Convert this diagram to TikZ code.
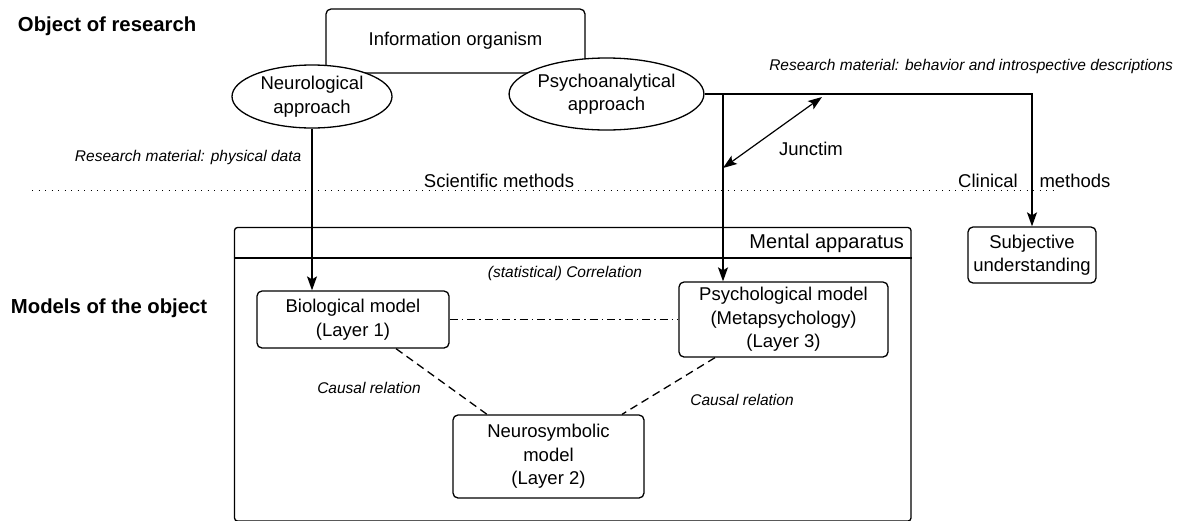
\documentclass[tikz,border=0pt]{standalone}
\usepackage{fontspec}
\setmainfont{Liberation Sans}
\usetikzlibrary{arrows.meta,shapes.geometric}
\begin{document}
\begin{tikzpicture}[x=1pt,y=-1pt,
  line width=1.3pt,
  >={Stealth[length=14pt,width=10pt,inset=3pt]},
  txt/.style={font=\fontsize{18.5}{23.5}\selectfont},
  lbl/.style={font=\fontsize{15.5}{18}\selectfont\itshape},
  hdr/.style={font=\fontsize{20.3}{24}\selectfont\bfseries},
  box/.style={draw, rounded corners=5pt, align=center, inner sep=0pt, fill=white, txt},
  oval/.style={draw, ellipse, align=center, inner sep=0pt, fill=white, txt},
  corr/.style={dash pattern=on 8pt off 4pt on 1.5pt off 4pt},
  causal/.style={dash pattern=on 8pt off 5pt},
  divider/.style={line width=1pt, dash pattern=on 1pt off 5.5pt}
]
\useasboundingbox (0,0) rectangle (1183,520);

% headings
\node[hdr, anchor=west] (hobj) at (14,26) {Object of research};
\node[hdr, anchor=west] (hmod) at (7,308) {Models of the object};

% object of research
\node[box, minimum width=259pt, minimum height=64pt] (org) at (455.5,41) {Information organism};
\node[oval, minimum width=160pt, minimum height=63pt] (neuro) at (312,96.5) {Neurological\\approach};
\node[oval, minimum width=177pt, minimum height=72pt] (psycho) at (606.5,94) {Psychoanalytical\\approach};

% research material labels
\node[lbl, anchor=east] (matb) at (1177,66) {Research material: behavior and introspective descriptions};
\node[lbl, anchor=west] (matp) at (71,157) {Research material: physical data};

% method divider
\coordinate (dl) at (32,190);
\coordinate (dr) at (1053,190);
\draw[divider] (dl) -- (dr);
\node[txt] (sci) at (499,181) {Scientific methods};
\node[txt] (clin) at (988,181) {Clinical};
\node[txt] (meth) at (1075,181) {methods};

% mental apparatus container
\node[draw, rounded corners=3pt, minimum width=676.5pt, minimum height=293.5pt, inner sep=0pt] (mental) at (572.75,374.25) {};
\coordinate (hl) at (0,258);
\draw (mental.west |- hl) -- (mental.east |- hl);
\node[txt, font=\fontsize{20}{24}\selectfont, anchor=east] (mtitle) at (908,243) {Mental apparatus};

% models
\node[box, minimum width=192pt, minimum height=57pt] (bio) at (353,319.5) {Biological model\\(Layer 1)};
\node[box, minimum width=209pt, minimum height=75pt] (psych) at (783.5,319.5) {Psychological model\\(Metapsychology)\\(Layer 3)};
\node[box, minimum width=191pt, minimum height=83pt] (nsym) at (548.5,456.5) {Neurosymbolic\\model\\(Layer 2)};
\node[box, minimum width=128pt, minimum height=56pt] (subj) at (1032,255) {Subjective\\understanding};

% relations between the models
\draw[corr] (bio.east) -- (psych.west);
\node[lbl] (corrl) at (565,273) {(statistical) Correlation};
\draw[causal] ([xshift=43pt]bio.south) -- ([xshift=-61.5pt]nsym.north);
\draw[causal] ([xshift=-68.5pt]psych.south) -- ([xshift=73.5pt]nsym.north);
\node[lbl] (caus1) at (369,388) {Causal relation};
\node[lbl] (caus2) at (742,400) {Causal relation};

% research paths
\draw[->] (neuro.south) -- (neuro.south |- bio.north);
\draw[->] (psycho.east) -| (subj.north);
\coordinate (tap) at (723,94);
\draw[->] (tap) -- (tap |- psych.north);

% junctim
\coordinate (j1) at (723,168);
\coordinate (j2) at (822,97);
\draw[<->, line width=1.2pt, >={Stealth[length=14pt,width=10pt,inset=3pt]}] (j1) -- (j2);
\node[txt] (junc) at (811,149) {Junctim};
\end{tikzpicture}
\end{document}
